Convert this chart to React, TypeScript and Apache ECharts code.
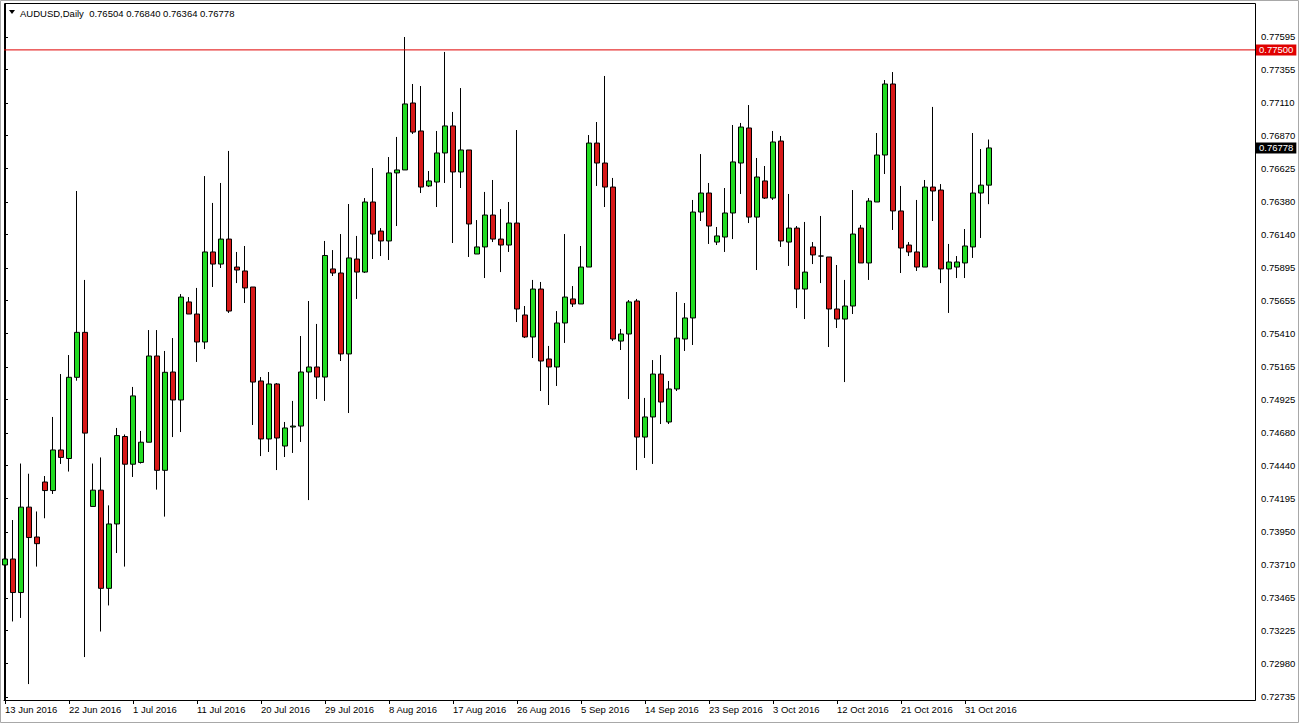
import React, { useEffect, useRef } from 'react';
import * as echarts from 'echarts';

// Daily bars from 13 Jun 2016 (bar index 0) to 3 Nov 2016 (bar index 123)
const opens = [
  0.73707, 0.73751, 0.73504, 0.74133, 0.73913, 0.74318, 0.74255, 0.74554, 0.74491, 0.75089,
  0.75420, 0.74138, 0.74258, 0.73535, 0.74009, 0.74653, 0.74449, 0.74462, 0.74611, 0.75246,
  0.74404, 0.75128, 0.74922, 0.75644, 0.75555, 0.75349, 0.76012, 0.75923, 0.76107, 0.75901,
  0.75872, 0.75754, 0.75062, 0.74635, 0.75040, 0.74583, 0.74723, 0.74730, 0.75128, 0.75165,
  0.75091, 0.75887, 0.75857, 0.75261, 0.75960, 0.75864, 0.76380, 0.76166, 0.76093, 0.76594,
  0.76616, 0.77109, 0.76903, 0.76498, 0.76527, 0.76741, 0.76940, 0.76601, 0.76763, 0.75997,
  0.76049, 0.76284, 0.76107, 0.76063, 0.76225, 0.75548, 0.75386, 0.75739, 0.75224, 0.75165,
  0.75489, 0.75666, 0.75629, 0.75901, 0.76814, 0.76667, 0.76490, 0.75356, 0.75408, 0.75651,
  0.74649, 0.74797, 0.75113, 0.74760, 0.75003, 0.75371, 0.75526, 0.76306, 0.76446, 0.76085,
  0.76122, 0.76299, 0.76667, 0.76925, 0.76269, 0.76535, 0.76409, 0.76829, 0.76085, 0.76188,
  0.75739, 0.76049, 0.75982, 0.75975, 0.75592, 0.75518, 0.75614, 0.76188, 0.75931, 0.76380,
  0.76726, 0.77249, 0.76314, 0.76063, 0.76012, 0.75901, 0.76490, 0.76468, 0.75887, 0.75901,
  0.75931, 0.76049, 0.76446, 0.76504,
];
const highs = [
  0.74101, 0.74038, 0.74454, 0.74379, 0.74101, 0.74362, 0.74797, 0.75113, 0.75253, 0.76461,
  0.75806, 0.74454, 0.74499, 0.74146, 0.74716, 0.74668, 0.75018, 0.74694, 0.75437, 0.75437,
  0.75283, 0.75378, 0.75702, 0.75680, 0.75747, 0.76571, 0.76373, 0.76520, 0.76756, 0.76012,
  0.76056, 0.75754, 0.75091, 0.75128, 0.75047, 0.74760, 0.74915, 0.75393, 0.75651, 0.75482,
  0.76093, 0.76026, 0.76144, 0.76365, 0.76130, 0.76409, 0.76630, 0.76188, 0.76711, 0.76859,
  0.77595, 0.77249, 0.77234, 0.76608, 0.76903, 0.77485, 0.77043, 0.77219, 0.76763, 0.76247,
  0.76454, 0.76542, 0.76328, 0.76380, 0.76910, 0.75614, 0.75806, 0.75791, 0.75320, 0.75577,
  0.76144, 0.75761, 0.76056, 0.76873, 0.76969, 0.77308, 0.76557, 0.75445, 0.75658, 0.75666,
  0.74937, 0.75216, 0.75253, 0.75062, 0.75717, 0.75636, 0.76395, 0.76733, 0.76520, 0.76196,
  0.76483, 0.76947, 0.76962, 0.77094, 0.76704, 0.76645, 0.76903, 0.76866, 0.76439, 0.76203,
  0.76233, 0.76085, 0.76277, 0.75975, 0.75916, 0.75806, 0.76468, 0.76211, 0.76409, 0.76888,
  0.77278, 0.77337, 0.76498, 0.76085, 0.76395, 0.76542, 0.77080, 0.76512, 0.76071, 0.75982,
  0.76181, 0.76888, 0.76770, 0.76840,
];
const lows = [
  0.73578, 0.73291, 0.73317, 0.72830, 0.73695, 0.74051, 0.74230, 0.74451, 0.74395, 0.75064,
  0.73029, 0.74138, 0.73217, 0.73409, 0.73795, 0.73695, 0.74355, 0.74454, 0.74611, 0.74262,
  0.74063, 0.74649, 0.74686, 0.75555, 0.75202, 0.75297, 0.75754, 0.75894, 0.75563, 0.75783,
  0.75636, 0.74738, 0.74509, 0.74539, 0.74406, 0.74502, 0.74532, 0.74613, 0.74185, 0.74929,
  0.74915, 0.75835, 0.75209, 0.74826, 0.75666, 0.75857, 0.75960, 0.75982, 0.75953, 0.76203,
  0.76616, 0.76881, 0.76446, 0.76490, 0.76343, 0.76520, 0.76078, 0.76483, 0.75975, 0.75997,
  0.75820, 0.76085, 0.75864, 0.76012, 0.75496, 0.75378, 0.75231, 0.74988, 0.74885, 0.75025,
  0.75342, 0.75607, 0.75629, 0.75901, 0.76498, 0.76343, 0.75356, 0.75290, 0.74929, 0.74406,
  0.74495, 0.74451, 0.74745, 0.74745, 0.74988, 0.75283, 0.75327, 0.76240, 0.76071, 0.76063,
  0.76012, 0.76107, 0.76439, 0.76225, 0.75879, 0.76402, 0.76395, 0.76049, 0.75909, 0.75599,
  0.75518, 0.75923, 0.75783, 0.75312, 0.75452, 0.75054, 0.75555, 0.75931, 0.75806, 0.76380,
  0.76586, 0.76174, 0.75857, 0.75982, 0.75872, 0.75901, 0.76240, 0.75783, 0.75563, 0.75820,
  0.75820, 0.75968, 0.76115, 0.76364,
];
const closes = [
  0.73751, 0.73504, 0.74133, 0.73909, 0.73864, 0.74255, 0.74554, 0.74499, 0.75089, 0.75420,
  0.74678, 0.74258, 0.73535, 0.74009, 0.74660, 0.74449, 0.74952, 0.74611, 0.75246, 0.74404,
  0.75126, 0.74922, 0.75680, 0.75555, 0.75349, 0.76012, 0.75923, 0.76107, 0.75577, 0.75879,
  0.75747, 0.75054, 0.74635, 0.75040, 0.74642, 0.74716, 0.74730, 0.75128, 0.75165, 0.75091,
  0.75986, 0.75857, 0.75261, 0.75968, 0.75864, 0.76380, 0.76144, 0.76093, 0.76594, 0.76616,
  0.77102, 0.76895, 0.76490, 0.76535, 0.76741, 0.76940, 0.76601, 0.76763, 0.76218, 0.76049,
  0.76284, 0.76107, 0.76063, 0.76225, 0.75592, 0.75386, 0.75739, 0.75209, 0.75165, 0.75489,
  0.75680, 0.75629, 0.75901, 0.76814, 0.76667, 0.76490, 0.75371, 0.75408, 0.75644, 0.74649,
  0.74797, 0.75113, 0.74907, 0.75003, 0.75378, 0.75526, 0.76306, 0.76446, 0.76203, 0.76130,
  0.76299, 0.76675, 0.76932, 0.76269, 0.76564, 0.76409, 0.76822, 0.76093, 0.76188, 0.75739,
  0.75864, 0.75990, 0.75982, 0.75592, 0.75518, 0.75614, 0.76144, 0.75931, 0.76387, 0.76726,
  0.77249, 0.76314, 0.76041, 0.76012, 0.75901, 0.76490, 0.76461, 0.75887, 0.75938, 0.75938,
  0.76056, 0.76446, 0.76504, 0.76778,
];

const tickBars = [0, 8, 16, 24, 32, 40, 48, 56, 64, 72, 80, 88, 96, 104, 112, 120];
const tickLabels = [
  '13 Jun 2016', '22 Jun 2016', '1 Jul 2016', '11 Jul 2016', '20 Jul 2016', '29 Jul 2016',
  '8 Aug 2016', '17 Aug 2016', '26 Aug 2016', '5 Sep 2016', '14 Sep 2016', '23 Sep 2016',
  '3 Oct 2016', '12 Oct 2016', '21 Oct 2016', '31 Oct 2016',
];
const priceTicks = [
  0.77595, 0.77355, 0.7711, 0.7687, 0.76625, 0.7638, 0.7614, 0.75895, 0.75655, 0.7541,
  0.75165, 0.74925, 0.7468, 0.7444, 0.74195, 0.7395, 0.7371, 0.73465, 0.73225, 0.7298, 0.72735,
];
const levelLine = 0.775;
const headerTitle = 'AUDUSD,Daily';
const lastBar = { open: 0.76504, high: 0.7684, low: 0.76364, close: 0.76778 };

const X_MIN = -0.125;
const X_MAX = 156.25;
const FONT = '"Liberation Sans", Arial, sans-serif';
const GREEN = '#22dc22';
const RED = '#d81818';

export default function App() {
  const ref = useRef<HTMLDivElement>(null);
  useEffect(() => {
    if (!ref.current) return;
    const chart = echarts.init(ref.current, null, { renderer: 'svg' });
    const candles = opens.map((o, i) => [i, o, closes[i], lows[i], highs[i]]);
    const headerText =
      headerTitle + '  ' +
      [lastBar.open, lastBar.high, lastBar.low, lastBar.close].map((v) => v.toFixed(5)).join(' ');
    const priceBox = (bg: string, value: number) => ({
      show: true,
      distance: 1,
      color: '#fff',
      backgroundColor: bg,
      padding: [1, 3, 0, 3],
      fontSize: 9.5,
      fontFamily: FONT,
      formatter: () => value.toFixed(5),
    });
    chart.setOption({
      animation: false,
      backgroundColor: '#ffffff',
      grid: { left: 4, top: 4, width: 1251, height: 696, show: false },
      xAxis: {
        type: 'value',
        min: X_MIN,
        max: X_MAX,
        axisLine: { show: true, onZero: false, lineStyle: { color: '#000', width: 1 } },
        axisTick: { show: true, customValues: tickBars, length: 4, lineStyle: { color: '#000' } },
        axisLabel: {
          customValues: tickBars,
          formatter: (v: number) => {
            const k = tickBars.indexOf(Math.round(v));
            return k >= 0 ? tickLabels[k] : '';
          },
          align: 'left',
          margin: 4,
          fontSize: 9.5,
          fontFamily: FONT,
          color: '#000',
        },
        splitLine: { show: false },
      },
      yAxis: {
        type: 'value',
        position: 'right',
        min: 0.727127,
        max: 0.77838,
        axisLine: { show: true, lineStyle: { color: '#000', width: 1 } },
        axisTick: { show: true, customValues: priceTicks, length: 3, lineStyle: { color: '#000' } },
        axisLabel: {
          customValues: priceTicks,
          formatter: (v: number) => v.toFixed(5),
          margin: 6,
          fontSize: 9.5,
          fontFamily: FONT,
          color: '#000',
        },
        splitLine: { show: false },
      },
      series: [
        {
          type: 'candlestick',
          data: candles,
          encode: { x: 0, y: [1, 2, 3, 4] },
          barWidth: 5,
          itemStyle: {
            color: GREEN,
            color0: RED,
            borderColor: '#000',
            borderColor0: '#000',
            borderWidth: 1,
          },
        },
        {
          type: 'line',
          data: [[X_MIN, levelLine], [X_MAX, levelLine]],
          symbol: 'none',
          silent: true,
          clip: false,
          lineStyle: { color: '#e00000', width: 1 },
          endLabel: priceBox('#e00000', levelLine),
        },
        {
          type: 'line',
          data: [[X_MIN, lastBar.close], [X_MAX, lastBar.close]],
          symbol: 'none',
          silent: true,
          clip: false,
          lineStyle: { color: '#ffffff', width: 0, opacity: 0 },
          endLabel: priceBox('#000000', lastBar.close),
        },
      ],
      graphic: [
        {
          type: 'rect',
          shape: { x: 0.5, y: 0.5, width: 1298, height: 722 },
          style: { fill: 'none', stroke: '#a8a8a8', lineWidth: 1 },
          silent: true,
        },
        {
          type: 'rect',
          shape: { x: 4.5, y: 3.5, width: 1251, height: 697 },
          style: { fill: 'none', stroke: '#000', lineWidth: 1 },
          silent: true,
        },
        {
          type: 'polygon',
          shape: { points: [[9, 10], [15, 10], [12, 14]] },
          style: { fill: '#000' },
          silent: true,
        },
        {
          type: 'text',
          x: 20,
          y: 13,
          style: {
            text: headerText,
            fill: '#000',
            font: '9.5px ' + FONT,
            textVerticalAlign: 'middle',
          },
          silent: true,
        },
      ],
    });
    return () => chart.dispose();
  }, []);
  return (
    <div
      ref={ref}
      style={{ position: 'absolute', left: 0, top: 0, width: 1299, height: 723 }}
    />
  );
}
